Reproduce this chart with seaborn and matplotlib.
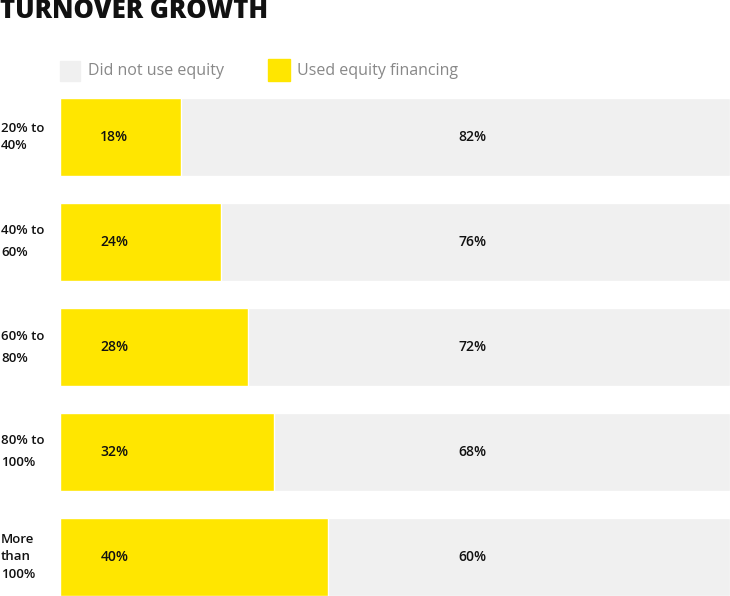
import matplotlib
matplotlib.use("Agg")
import matplotlib.pyplot as plt
import seaborn as sns
import pandas as pd
import numpy as np
from matplotlib.patches import Rectangle

# data
groups = ["20% to\n40%", "40% to\n60%", "60% to\n80%", "80% to\n100%", "More\nthan\n100%"]
used_equity = [18, 24, 28, 32, 40]
not_used = [82, 76, 72, 68, 60]

YELLOW = "#FFE600"
GREY = "#F0F0F0"
# label line spacing differs a bit per label in the original
label_spacing = [1.45, 1.9, 1.9, 1.9, 1.45]

df = pd.DataFrame({"group": groups, "used": used_equity, "not_used": not_used})
df["total"] = df["used"] + df["not_used"]

sns.set_style("white")
plt.rcParams["font.family"] = ["Open Sans", "DejaVu Sans"]

W, H = 730, 596
fig = plt.figure(figsize=(W / 100, H / 100), dpi=100)
ax = fig.add_axes([60 / W, 0, 1 - 60 / W, 1 - 98 / H])

bar_h = 78 / 105
sns.barplot(data=df, y="group", x="total", color=GREY, orient="h",
            width=bar_h, ax=ax, saturation=1)
sns.barplot(data=df, y="group", x="used", color=YELLOW, orient="h",
            width=bar_h, ax=ax, saturation=1)

ax.set_xlim(0, 100)
ax.set_ylim(len(groups) - 1 + bar_h / 2, -bar_h / 2)
ax.set_xlabel("")
ax.set_ylabel("")
ax.set_xticks([])
ax.set_yticks([])
sns.despine(ax=ax, left=True, bottom=True)

# value labels sit at fixed positions
for i, (u, n) in enumerate(zip(used_equity, not_used)):
    ax.text(8.1, i, f"{u}%", ha="center", va="center", fontsize=10,
            fontweight="semibold", color="#111111")
    ax.text(61.6, i, f"{n}%", ha="center", va="center", fontsize=10,
            fontweight="semibold", color="#111111")

# category labels on the left
for i, g in enumerate(groups):
    y_pix = 137 + i * 105
    fig.text(1 / W, 1 - y_pix / H, g, ha="left", va="center", fontsize=9.5,
             fontweight="semibold", color="#111111",
             linespacing=label_spacing[i])

# title
fig.text(0, 1 - 11 / H, "TURNOVER GROWTH", ha="left", va="center",
         fontsize=18.5, fontweight="heavy", color="#111111")

# legend
fig.patches.append(Rectangle((60 / W, 1 - 81 / H), 20 / W, 20 / H,
                             transform=fig.transFigure, color=GREY))
fig.text(88 / W, 1 - 71 / H, "Did not use equity", ha="left", va="center",
         fontsize=11.5, color="#888888")
fig.patches.append(Rectangle((268 / W, 1 - 81 / H), 22 / W, 22 / H,
                             transform=fig.transFigure, color=YELLOW))
fig.text(297 / W, 1 - 71 / H, "Used equity financing", ha="left", va="center",
         fontsize=11.5, color="#888888")

fig.savefig("out.png", dpi=100)
